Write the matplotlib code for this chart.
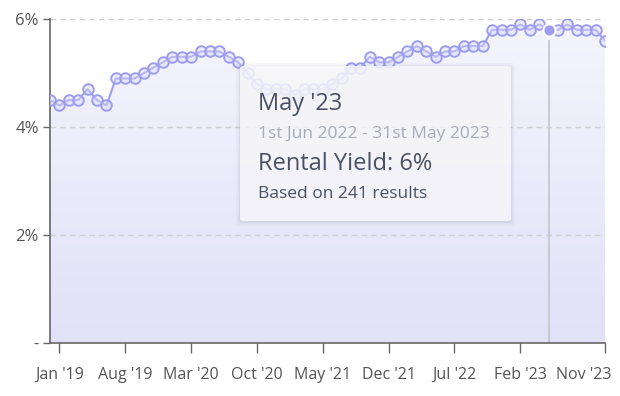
import numpy as np
import pandas as pd
import matplotlib
matplotlib.use("Agg")
import matplotlib.pyplot as plt
from matplotlib.patches import FancyBboxPatch, Polygon
from matplotlib.colors import LinearSegmentedColormap
from matplotlib.transforms import ScaledTranslation

plt.rcParams['font.family'] = ['Open Sans', 'DejaVu Sans']

# monthly rental yield (%), Dec 2018 - Nov 2023
months = pd.date_range('2018-12-01', periods=60, freq='MS')
yields = [4.5, 4.4, 4.5, 4.5, 4.7, 4.5, 4.4, 4.9, 4.9, 4.9,
          5.0, 5.1, 5.2, 5.3, 5.3, 5.3, 5.4, 5.4, 5.4, 5.3,
          5.2, 5.0, 4.8, 4.7, 4.7, 4.7, 4.6, 4.7, 4.7, 4.7,
          4.8, 4.9, 5.1, 5.1, 5.3, 5.2, 5.2, 5.3, 5.4, 5.5,
          5.4, 5.3, 5.4, 5.4, 5.5, 5.5, 5.5, 5.8, 5.8, 5.8,
          5.9, 5.8, 5.9, 5.8, 5.8, 5.9, 5.8, 5.8, 5.8, 5.6]
tick_labels = ["Jan '19", "Aug '19", "Mar '20", "Oct '20", "May '21",
               "Dec '21", "Jul '22", "Feb '23", "Nov '23"]
y_ticks = [0, 2, 4, 6]
y_labels = ["-", "2%", "4%", "6%"]
hover_month = "May '23"
tooltip_lines = ["May '23", "1st Jun 2022 - 31st May 2023",
                 "Rental Yield: 6%", "Based on 241 results"]

labels = [m.strftime("%b '%y") for m in months]
x = np.arange(len(yields))
y = np.array(yields)
tick_pos = [labels.index(t) for t in tick_labels]
hi = labels.index(hover_month)

W, H = 620, 396
fig = plt.figure(figsize=(W / 100, H / 100), dpi=100)
ax = fig.add_axes([50 / W, 53 / H, 555 / W, 324 / H])
ax.set_xlim(0, x[-1])
ax.set_ylim(0, 6)

line_col = '#9d9df0'

# gradient fill under the line
grad = np.linspace(0, 1, 256).reshape(-1, 1)
cmap = LinearSegmentedColormap.from_list('g', ['#e1e1f8', '#f5f5fd'])
im = ax.imshow(grad, cmap=cmap, aspect='auto', extent=[0, x[-1], 0, 6],
               origin='lower', zorder=1)
poly = Polygon(np.column_stack([np.r_[x, x[-1], 0], np.r_[y, 0, 0]]),
               closed=True, transform=ax.transData, facecolor='none', edgecolor='none')
ax.add_patch(poly)
im.set_clip_path(poly)

for v in [2, 4, 6]:
    ax.axhline(v, color='#cfcfd4', lw=1, ls=(0, (4, 3)), zorder=2)

ax.axvline(hi, ymax=5.6 / 6, color='#c4c4cc', lw=1.2, zorder=2)

ax.plot(x, y, color=line_col, lw=1.5, zorder=3)
mask = x != hi
ax.plot(x[mask], y[mask], ls='none', marker='o', ms=7.6, mfc=(0.85, 0.85, 0.99, 0.45),
        mec=line_col, mew=1.4, zorder=4)
ax.plot(x[hi], y[hi], ls='none', marker='o', ms=8.8, mfc='#9d9df0', mec='white',
        mew=1.5, zorder=5)

ax.set_xticks(tick_pos)
ax.set_xticklabels(tick_labels)
ax.set_yticks(y_ticks)
ax.set_yticklabels(y_labels)
for s in ['top', 'right']:
    ax.spines[s].set_visible(False)
for s in ['left', 'bottom']:
    ax.spines[s].set_color('#666666')
    ax.spines[s].set_linewidth(1.2)
ax.tick_params(axis='x', length=7, width=1, color='#666666', labelcolor='#555555',
               labelsize=11.5, pad=10)
ax.tick_params(axis='y', length=5, width=1, color='#666666', labelcolor='#555555',
               labelsize=12, pad=3)
last = ax.get_xticklabels()[-1]
last.set_ha('right')
last.set_transform(last.get_transform() + ScaledTranslation(7 / 100, 0, fig.dpi_scale_trans))

# tooltip
bx0, by0, bx1, by1 = 240, 66, 511, 221
for i, a in enumerate([0.05, 0.04, 0.03]):
    d = 1 + i * 1.5
    sh = FancyBboxPatch(((bx0 - d) / W, 1 - (by1 + d + 1) / H), (bx1 - bx0 + 2 * d) / W,
                        (by1 - by0 + 2 * d) / H, boxstyle='round,pad=0,rounding_size=0.006',
                        transform=fig.transFigure, facecolor='#505070', alpha=a,
                        edgecolor='none', zorder=9)
    fig.add_artist(sh)
box = FancyBboxPatch((bx0 / W, 1 - by1 / H), (bx1 - bx0) / W, (by1 - by0) / H,
                     boxstyle='round,pad=0,rounding_size=0.006', transform=fig.transFigure,
                     facecolor=(0.975, 0.975, 0.99, 0.82), edgecolor='none', zorder=10)
fig.add_artist(box)
styles = [(110, 17, '#4b5263'), (138, 12.5, '#a9adb8'), (170, 17, '#4b5263'), (198, 12.5, '#4b5263')]
for txt, (base, size, col) in zip(tooltip_lines, styles):
    fig.text(258 / W, 1 - base / H, txt, fontsize=size, color=col, va='baseline',
             ha='left', zorder=11)

fig.savefig('out.png', dpi=100)
